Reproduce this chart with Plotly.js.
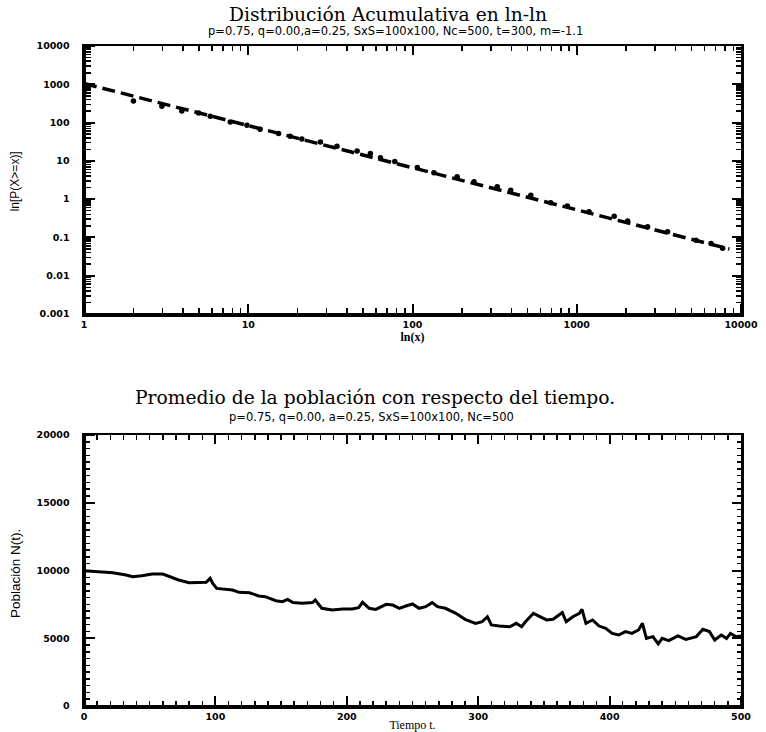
<!DOCTYPE html>
<html>
<head>
<meta charset="utf-8">
<script src="https://cdn.plot.ly/plotly-3.0.1.min.js"></script>
<style>html,body{margin:0;padding:0;background:#fff;}#plot{width:766px;height:732px;}</style>
</head>
<body>
<div id="plot"></div>
<script>
// Top chart: cumulative distribution (log-log)
const distX = [1, 2, 2.98, 3.94, 4.98, 5.87, 7.77, 9.82, 11.8, 15.3, 18, 21.2, 27.5, 34.7, 46, 55.4, 63.8, 78,
  107, 135, 187, 237, 328, 396, 525, 694, 877, 1188, 1690, 2040, 2700, 3570, 5320, 6570, 7730];
const distY = [630, 367, 267, 202, 179, 147, 104, 85, 67, 52, 44, 37.5, 31.3, 24.2, 18.2, 15.6, 12.0, 9.6,
  6.7, 4.86, 3.83, 2.83, 2.10, 1.72, 1.27, 0.80, 0.66, 0.47, 0.36, 0.27, 0.19, 0.14, 0.085, 0.070, 0.052];
const fitX = [1, 8500];
const fitY = [1050, 0.05];
const logTickVals = [0.001, 0.01, 0.1, 1, 10, 100, 1000, 10000];
const logTickText = ["0.001", "0.01", "0.1", "1", "10", "100", "1000", "10000"];
const xLogTickVals = [1, 10, 100, 1000, 10000];
const xLogTickText = ["1", "10", "100", "1000", "10000"];

// Bottom chart: population vs time
const timeT = [0,11,22,32,37,44,52,60,65,72,80,88,93,96,98,101,108,113,118,126,133,138,146,151,155,159,166,174,176,181,
  189,197,204,209,212,217,222,230,235,240,245,250,255,260,265,269,275,283,290,298,303,307,310,316,324,329,333,336,342,347,
  352,357,362,364,367,372,377,379,382,387,392,397,402,407,412,417,422,425,428,433,437,440,445,452,458,466,471,476,480,485,
  489,492,496,500];
const popN = [9990,9910,9840,9670,9545,9620,9740,9740,9545,9300,9100,9130,9130,9420,9050,8680,8610,8560,8390,8360,
  8120,8070,7770,7700,7870,7630,7580,7630,7820,7210,7085,7160,7160,7260,7650,7210,7130,7500,7450,7210,
  7380,7530,7210,7330,7630,7330,7210,6840,6400,6100,6220,6590,5980,5900,5850,6100,5850,6220,6840,6590,
  6350,6400,6720,6890,6220,6590,6840,7130,6100,6350,5900,5730,5360,5240,5490,5360,5610,6100,4990,5120,
  4580,4990,4820,5170,4920,5120,5660,5490,4870,5240,4990,5360,5120,5170];

const titleTop = "Distribución Acumulativa en ln-ln";
const subTop = "p=0.75, q=0.00,a=0.25, SxS=100x100, Nc=500, t=300, m=-1.1";
const titleBot = "Promedio de la población con respecto del tiempo.";
const subBot = "p=0.75, q=0.00, a=0.25, SxS=100x100, Nc=500";
const xTitleTop = "ln(x)";
const yTitleTop = "ln[P(X>=x)]";
const xTitleBot = "Tiempo t.";
const yTitleBot = "Población N(t).";

// minor tick positions on log axes: digits 2..9 of each decade
function logMinor(lo, hi) {
  const v = [];
  for (let e = lo; e < hi; e++) for (let d = 2; d <= 9; d++) v.push(d * Math.pow(10, e));
  return v;
}

const topDom = [0.5939, 1];
const botDom = [0, 0.4106];

const tickFont = {family: "DejaVu Sans", size: 9.5, color: "black", weight: "bold"};
const minorLog = (lo, hi, dir) => ({tickmode: "array", tickvals: logMinor(lo, hi), ticks: dir, ticklen: 5, tickwidth: 1.5, tickcolor: "black"});
const minorLin = (d, dir) => ({dtick: d, ticks: dir, ticklen: 4.5, tickwidth: 1.5, tickcolor: "black"});

function ax(extra) {
  return Object.assign({
    showgrid: false, zeroline: false, showline: true, linecolor: "black", linewidth: 2.5,
    mirror: false, ticks: "inside", ticklen: 9, tickwidth: 2, tickcolor: "black",
    tickfont: tickFont, automargin: false
  }, extra);
}
// frame axis: tick marks only, overlaid on a base axis
function frameAx(base, extra) {
  return ax(Object.assign({overlaying: base, showticklabels: false}, extra));
}
const logX = (dir) => ({type: "log", range: [0, 4], tickmode: "array", tickvals: xLogTickVals, ticks: dir, minor: minorLog(0, 4, dir)});
const logY = (dir) => ({type: "log", range: [-3, 4], tickmode: "array", tickvals: logTickVals, ticks: dir, minor: minorLog(-3, 4, dir)});
const linX = (dir) => ({range: [0, 500], dtick: 100, ticks: dir, minor: minorLin(10, dir)});
const linY = (dir) => ({range: [0, 20000], dtick: 5000, ticks: dir, minor: minorLin(500, dir)});

const traces = [
  {x: fitX, y: fitY, xaxis: "x", yaxis: "y", mode: "lines",
   line: {color: "black", width: 3.5, dash: "13px,6px"}, hoverinfo: "skip"},
  {x: distX, y: distY, xaxis: "x", yaxis: "y", mode: "markers",
   marker: {color: "black", size: 5.5}},
  {x: timeT, y: popN, xaxis: "x2", yaxis: "y2", mode: "lines",
   line: {color: "black", width: 3}},
  // empty traces so the frame axes are drawn
  {x: [], y: [], xaxis: "x3", yaxis: "y", mode: "lines"},
  {x: [], y: [], xaxis: "x", yaxis: "y3", mode: "lines"},
  {x: [], y: [], xaxis: "x4", yaxis: "y2", mode: "lines"},
  {x: [], y: [], xaxis: "x2", yaxis: "y4", mode: "lines"},
  {x: [], y: [], xaxis: "x5", yaxis: "y", mode: "lines"},
  {x: [], y: [], xaxis: "x", yaxis: "y5", mode: "lines"},
  {x: [], y: [], xaxis: "x6", yaxis: "y2", mode: "lines"},
  {x: [], y: [], xaxis: "x2", yaxis: "y6", mode: "lines"}
];

const yTitleFont = {family: "Liberation Sans Narrow, Liberation Sans", color: "black"};

const layout = {
  width: 766, height: 732,
  margin: {l: 84, r: 25, t: 46, b: 26},
  paper_bgcolor: "white", plot_bgcolor: "white",
  showlegend: false,
  xaxis: ax({
    type: "log", range: [0, 4], anchor: "y", domain: [0, 1], side: "bottom", ticks: "",
    tickmode: "array", tickvals: xLogTickVals, ticktext: xLogTickText,
    title: {text: xTitleTop, font: {family: "Liberation Serif", size: 12, color: "black", weight: "bold"}, standoff: 1}
  }),
  yaxis: ax({
    type: "log", range: [-3, 4], anchor: "x", domain: topDom, side: "left", ticks: "",
    tickmode: "array", tickvals: logTickVals, ticktext: logTickText, ticklabelstandoff: 10
  }),
  // top & right edges: inside ticks
  xaxis3: frameAx("x", Object.assign({side: "top", anchor: "y"}, logX("inside"))),
  yaxis3: frameAx("y", Object.assign({side: "right", anchor: "x"}, logY("inside"))),
  // bottom & left edges: opposite-side axes placed on the edge, outside ticks point into the plot
  xaxis5: frameAx("x", Object.assign({side: "top", anchor: "free", position: topDom[0]}, logX("outside"))),
  yaxis5: frameAx("y", Object.assign({side: "right", anchor: "free", position: 0}, logY("outside"))),
  xaxis2: ax({
    range: [0, 500], anchor: "y2", domain: [0, 1], side: "bottom", dtick: 100, tickformat: "d", ticks: "",
    title: {text: xTitleBot, font: {family: "Liberation Serif", size: 12, color: "black"}, standoff: 1}
  }),
  yaxis2: ax({
    range: [0, 20000], anchor: "x2", domain: botDom, side: "left", dtick: 5000, tickformat: "d", ticks: "",
    ticklabelstandoff: 10
  }),
  xaxis4: frameAx("x2", Object.assign({side: "top", anchor: "y2"}, linX("inside"))),
  yaxis4: frameAx("y2", Object.assign({side: "right", anchor: "x2"}, linY("inside"))),
  xaxis6: frameAx("x2", Object.assign({side: "top", anchor: "free", position: botDom[0]}, linX("outside"))),
  yaxis6: frameAx("y2", Object.assign({side: "right", anchor: "free", position: 0}, linY("outside"))),
  annotations: [
    {text: titleTop, xref: "paper", yref: "paper", x: 0.462, y: 1, yshift: 32, showarrow: false,
     xanchor: "center", yanchor: "middle", font: {family: "DejaVu Serif", size: 18.7, color: "black"}},
    {text: subTop, xref: "paper", yref: "paper", x: 0.474, y: 1, yshift: 15, showarrow: false,
     xanchor: "center", yanchor: "middle", font: {family: "DejaVu Sans", size: 11.5, color: "black"}},
    {text: titleBot, xref: "paper", yref: "paper", x: 0.443, y: botDom[1], yshift: 38, showarrow: false,
     xanchor: "center", yanchor: "middle", font: {family: "DejaVu Serif", size: 18.7, color: "black"}},
    {text: subBot, xref: "paper", yref: "paper", x: 0.438, y: botDom[1], yshift: 18, showarrow: false,
     xanchor: "center", yanchor: "middle", font: {family: "DejaVu Sans", size: 11.5, color: "black"}},
    {text: yTitleTop, xref: "paper", yref: "paper", x: -0.105, y: 0.795, textangle: -90, showarrow: false,
     xanchor: "center", yanchor: "middle", font: Object.assign({size: 12}, yTitleFont)},
    {text: yTitleBot, xref: "paper", yref: "paper", x: -0.105, y: 0.2, textangle: -90, showarrow: false,
     xanchor: "center", yanchor: "middle", font: Object.assign({size: 13.5}, yTitleFont)}
  ]
};

Plotly.newPlot("plot", traces, layout, {staticPlot: true, displayModeBar: false});
</script>
</body>
</html>
